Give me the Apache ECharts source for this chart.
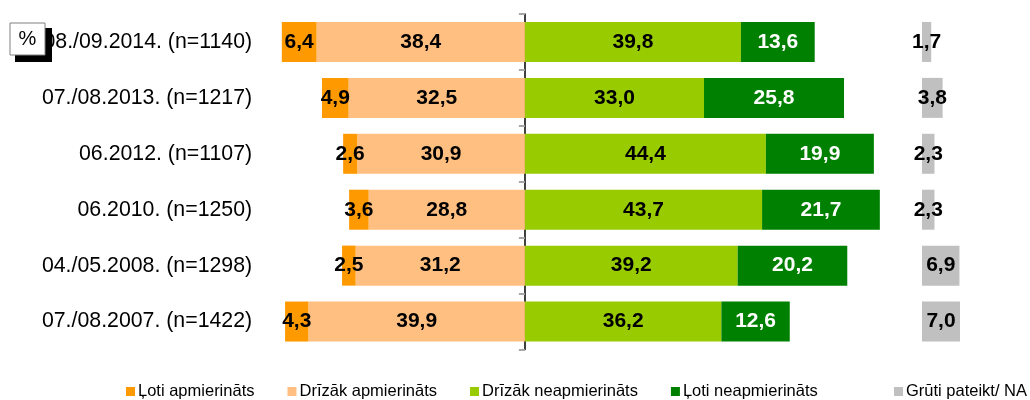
<!DOCTYPE html>
<html>
<head>
<meta charset="utf-8">
<script src="https://cdn.jsdelivr.net/npm/echarts@6/dist/echarts.min.js"></script>
<style>
  html, body { margin: 0; padding: 0; background: #fff; }
  #chart { width: 1030px; height: 400px; }
</style>
</head>
<body>
<div id="chart"></div>
<script>
var categories = ['08./09.2014. (n=1140)', '07./08.2013. (n=1217)', '06.2012. (n=1107)',
                  '06.2010. (n=1250)', '04./05.2008. (n=1298)', '07./08.2007. (n=1422)'];
var lotiApm = [6.4, 4.9, 2.6, 3.6, 2.5, 4.3];
var drizakApm = [38.4, 32.5, 30.9, 28.8, 31.2, 39.9];
var drizakNeapm = [39.8, 33.0, 44.4, 43.7, 39.2, 36.2];
var lotiNeapm = [13.6, 25.8, 19.9, 21.7, 20.2, 12.6];
var grutiPateikt = [1.7, 3.8, 2.3, 2.3, 6.9, 7.0];

var font = 'Liberation Sans, Arial, sans-serif';

function fmt(p) {
    return Math.abs(p.value).toFixed(1).replace('.', ',');
}

function neg(arr) {
    return arr.map(function (v) { return -v; });
}

function barLabel(color) {
    return {
        show: true,
        position: 'inside',
        formatter: fmt,
        color: color,
        fontFamily: font,
        fontWeight: 'bold',
        fontSize: 21
    };
}

var chart = echarts.init(document.getElementById('chart'));

// 5.427 px per percent on both grids
var option = {
    animation: false,
    textStyle: { fontFamily: font },
    grid: [
        { left: 253.6, top: 14, width: 651.2, height: 335.5 },
        { left: 922, top: 14, width: 54.27, height: 335.5 }
    ],
    xAxis: [
        { gridIndex: 0, type: 'value', min: -50, max: 70, show: false },
        { gridIndex: 1, type: 'value', min: 0, max: 10, show: false }
    ],
    yAxis: [
        {
            gridIndex: 0, type: 'category', data: categories, inverse: true,
            position: 'left',
            axisLine: { show: false, onZero: false },
            axisTick: { show: false },
            axisLabel: { margin: 1.5, color: '#000', fontSize: 21.3, fontFamily: font }
        },
        {
            gridIndex: 0, type: 'category', data: categories, inverse: true,
            position: 'left',
            axisLine: { show: true, onZero: true, lineStyle: { color: '#000', width: 1.5 } },
            axisTick: { show: true, length: 6, lineStyle: { color: '#A6A6A6', width: 2 } },
            axisLabel: { show: false }
        },
        {
            gridIndex: 1, type: 'category', data: categories, inverse: true, show: false
        }
    ],
    legend: [
        {
            left: 126, top: 383, padding: 0, itemWidth: 9, itemHeight: 9, itemGap: 33,
            icon: 'rect',
            textStyle: { fontSize: 16.5, color: '#000', fontFamily: font, padding: [0, 0, 0, -2] },
            data: ['Ļoti apmierināts', 'Drīzāk apmierināts', 'Drīzāk neapmierināts', 'Ļoti neapmierināts']
        },
        {
            left: 894, top: 383, padding: 0, itemWidth: 9, itemHeight: 9,
            icon: 'rect',
            textStyle: { fontSize: 16.5, color: '#000', fontFamily: font, padding: [0, 0, 0, -2] },
            data: ['Grūti pateikt/ NA']
        }
    ],
    series: [
        {
            name: 'Drīzāk apmierināts', type: 'bar', stack: 'total', barWidth: 40,
            xAxisIndex: 0, yAxisIndex: 1,
            itemStyle: { color: '#FFBF80' },
            label: barLabel('#000'),
            data: neg(drizakApm)
        },
        {
            name: 'Ļoti apmierināts', type: 'bar', stack: 'total', barWidth: 40,
            xAxisIndex: 0, yAxisIndex: 1,
            itemStyle: { color: '#FF9900' },
            label: barLabel('#000'),
            data: neg(lotiApm)
        },
        {
            name: 'Drīzāk neapmierināts', type: 'bar', stack: 'total', barWidth: 40,
            xAxisIndex: 0, yAxisIndex: 1,
            itemStyle: { color: '#99CC00' },
            label: barLabel('#000'),
            data: drizakNeapm
        },
        {
            name: 'Ļoti neapmierināts', type: 'bar', stack: 'total', barWidth: 40,
            xAxisIndex: 0, yAxisIndex: 1,
            itemStyle: { color: '#008000' },
            label: barLabel('#fff'),
            data: lotiNeapm
        },
        {
            name: 'Grūti pateikt/ NA', type: 'bar', barWidth: 40,
            xAxisIndex: 1, yAxisIndex: 2,
            itemStyle: { color: '#C0C0C0' },
            label: barLabel('#000'),
            data: grutiPateikt
        }
    ],
    graphic: [
        {
            type: 'rect', z: 100,
            shape: { x: 15, y: 28, width: 37, height: 34 },
            style: { fill: '#000' }
        },
        {
            type: 'rect', z: 101,
            shape: { x: 10, y: 23, width: 35, height: 32 },
            style: { fill: '#fff', stroke: '#808080', lineWidth: 1 }
        },
        {
            type: 'text', z: 102, x: 27.5, y: 39,
            style: {
                text: '%', fill: '#000', fontSize: 20, fontFamily: font,
                align: 'center', verticalAlign: 'middle'
            }
        }
    ]
};

chart.setOption(option);
</script>
</body>
</html>
